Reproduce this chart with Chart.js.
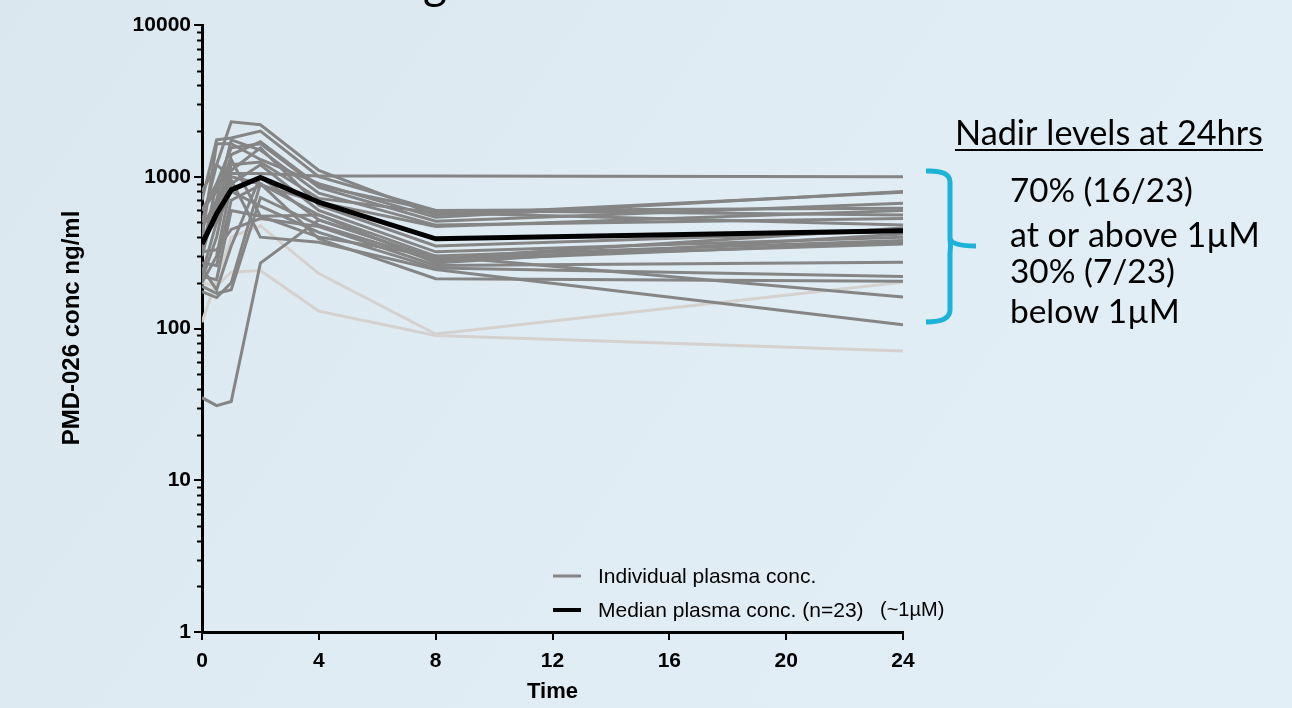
<!DOCTYPE html>
<html>
<head>
<meta charset="utf-8">
<script src="https://cdn.jsdelivr.net/npm/chart.js@4.4.1/dist/chart.umd.min.js"></script>
<style>
  html, body { margin: 0; padding: 0; }
  body {
    width: 1292px; height: 708px; overflow: hidden;
    background: linear-gradient(125deg, #dbe7ee 0%, #dfecf3 45%, #e2eff6 100%);
  }
  canvas { display: block; }
</style>
</head>
<body>
<canvas id="pkChart" width="1292" height="708"></canvas>
<script>
// sampling times (hours)
const hours = [0, 0.5, 1, 2, 4, 8, 24];

// median plasma conc. ng/ml (n=23)
const medianConc = [360, 570, 820, 990, 680, 390, 440];

// individual patients, ng/ml at each sampling time
const individualConc = [
    [600, 900, 1050, 1050, 1010, 1010, 1000],
    [500, 1200, 2300, 2200, 1100, 560, 790],
    [700, 1750, 1800, 2000, 1000, 600, 620],
    [400, 1650, 1650, 1300, 900, 540, 800],
    [320, 900, 1550, 1650, 850, 510, 670],
    [300, 700, 1750, 1500, 780, 480, 530],
    [230, 500, 1200, 1250, 720, 580, 480],
    [210, 400, 1100, 1550, 650, 350, 440],
    [200, 300, 900, 1200, 600, 320, 400],
    [175, 160, 200, 900, 560, 300, 380],
    [250, 180, 350, 1000, 520, 290, 360],
    [190, 170, 180, 730, 480, 280, 370],
    [220, 210, 600, 550, 560, 270, 420],
    [320, 330, 450, 530, 470, 260, 273],
    [420, 500, 800, 640, 430, 250, 220],
    [800, 1200, 1000, 900, 390, 213, 205],
    [600, 800, 1300, 550, 400, 300, 161],
    [460, 700, 950, 400, 370, 245, 106],
    [360, 600, 1400, 1700, 870, 600, 560],
    [270, 260, 700, 880, 680, 470, 600],
    [35, 31, 33, 270, 520, 290, 460]
];

// the two patients drawn in light grey
const faintConc = [
    [110, 210, 400, 476, 230, 92, 202],
    [200, 190, 235, 241, 130, 90, 71]
];

const yTickValues = [1, 10, 100, 1000, 10000];
const xTickStep = 4;

const toPoints = row => hours.map((h, i) => ({ x: h, y: row[i] }));

const datasets = [{
    label: 'Median plasma conc. (n=23)',
    data: toPoints(medianConc),
    borderColor: '#000000',
    borderWidth: 5,
    order: 0
}];
individualConc.forEach(row => {
    datasets.push({
        label: 'Individual plasma conc.',
        data: toPoints(row),
        borderColor: '#858585',
        borderWidth: 3,
        order: 1
    });
});
faintConc.forEach(row => {
    datasets.push({
        label: 'Individual plasma conc.',
        data: toPoints(row),
        borderColor: '#d5d1cf',
        borderWidth: 3,
        order: 2
    });
});

const tickFont = { family: 'Liberation Sans, Arial, sans-serif', size: 21, weight: 'bold' };

function fitText(ctx, text, x, y, width, family) {
    ctx.font = '40px ' + family;
    const size = 40 * width / ctx.measureText(text).width;
    ctx.font = size.toFixed(2) + 'px ' + family;
    ctx.fillText(text, x, y);
}

const extras = {
    id: 'extras',
    afterDraw(chart) {
        const ctx = chart.ctx;
        const yScale = chart.scales.y;
        const xScale = chart.scales.x;
        const left = chart.chartArea.left;
        ctx.save();

        // minor log ticks
        ctx.strokeStyle = '#000';
        ctx.lineWidth = 2;
        for (let d = 1; d < 10000; d *= 10) {
            for (let k = 2; k <= 9; k++) {
                const py = Math.round(yScale.getPixelForValue(k * d)) + 0.5;
                ctx.beginPath();
                ctx.moveTo(left - 5, py);
                ctx.lineTo(left, py);
                ctx.stroke();
            }
        }

        // axis titles
        ctx.fillStyle = '#000';
        ctx.textAlign = 'center';
        ctx.textBaseline = 'middle';
        ctx.font = 'bold 24px Liberation Sans, Arial, sans-serif';
        ctx.save();
        ctx.translate(72, 328);
        ctx.rotate(-Math.PI / 2);
        ctx.fillText('PMD-026 conc ng/ml', 0, 0);
        ctx.restore();
        ctx.textBaseline = 'alphabetic';
        ctx.font = 'bold 22px Liberation Sans, Arial, sans-serif';
        ctx.fillText('Time', xScale.getPixelForValue(12), 698);

        // legend
        ctx.textAlign = 'left';
        ctx.font = '21px Liberation Sans, Arial, sans-serif';
        const legendRows = [
            { y: 576, color: '#858585', w: 3, text: 'Individual plasma conc.' },
            { y: 610, color: '#000000', w: 4, text: 'Median plasma conc. (n=23)' }
        ];
        legendRows.forEach(r => {
            ctx.strokeStyle = r.color;
            ctx.lineWidth = r.w;
            ctx.beginPath();
            ctx.moveTo(553, r.y);
            ctx.lineTo(581, r.y);
            ctx.stroke();
            ctx.fillText(r.text, 598, r.y + 7);
        });
        ctx.font = '20px Liberation Sans, Arial, sans-serif';
        ctx.fillText('(~1\u00b5M)', 880, 616);

        // nadir annotation
        const fam = 'Lato, "Open Sans", sans-serif';
        fitText(ctx, 'Nadir levels at 24hrs', 955, 145, 308, fam);
        ctx.fillRect(955, 149, 308, 2);
        fitText(ctx, '70% (16/23)', 1010, 202, 183, fam);
        fitText(ctx, 'at or above 1\u00b5M', 1010, 247, 250, fam);
        fitText(ctx, '30% (7/23)', 1010, 283, 165, fam);
        fitText(ctx, 'below 1\u00b5M', 1010, 323, 170, fam);

        // bracket
        ctx.strokeStyle = '#1db2d8';
        ctx.lineWidth = 5;
        ctx.lineJoin = 'round';
        ctx.beginPath();
        ctx.moveTo(926, 171);
        ctx.quadraticCurveTo(950, 170, 950, 182);
        ctx.lineTo(950, 238);
        ctx.quadraticCurveTo(951, 246, 976, 246);
        ctx.moveTo(950, 238);
        ctx.quadraticCurveTo(951, 246, 950, 254);
        ctx.lineTo(950, 310);
        ctx.quadraticCurveTo(950, 322, 926, 322);
        ctx.stroke();

        // descender of the slide title cut by the top edge
        ctx.fillStyle = '#000';
        ctx.font = '46px Lato, sans-serif';
        ctx.fillText('g', 423, -1);

        ctx.restore();
    }
};

new Chart(document.getElementById('pkChart'), {
    type: 'line',
    data: { datasets },
    options: {
        responsive: false,
        animation: false,
        layout: { padding: { top: 25, right: 389, left: 0, bottom: 0 } },
        elements: {
            point: { radius: 0 },
            line: { tension: 0, borderCapStyle: 'butt', borderJoinStyle: 'miter' }
        },
        plugins: {
            legend: { display: false },
            tooltip: { enabled: false }
        },
        scales: {
            x: {
                type: 'linear',
                min: 0,
                max: 24,
                afterFit: s => { s.height = 708 - 25 - 607; },
                ticks: { stepSize: xTickStep, color: '#000', font: tickFont, padding: 9 },
                grid: { drawOnChartArea: false, color: '#000', lineWidth: 2, tickLength: 8 },
                border: { color: '#000', width: 3 }
            },
            y: {
                type: 'logarithmic',
                min: 1,
                max: 10000,
                afterFit: s => { s.width = 202; },
                afterBuildTicks: s => { s.ticks = yTickValues.map(v => ({ value: v })); },
                ticks: {
                    color: '#000',
                    font: tickFont,
                    padding: 3,
                    autoSkip: false,
                    callback: v => String(v)
                },
                grid: { drawOnChartArea: false, color: '#000', lineWidth: 2, tickLength: 8 },
                border: { color: '#000', width: 3 }
            }
        }
    },
    plugins: [extras]
});
</script>
</body>
</html>
